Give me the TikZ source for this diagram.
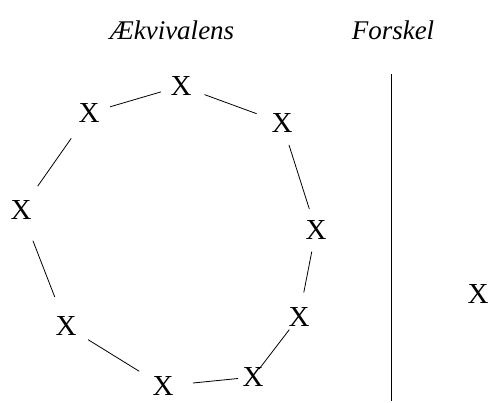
\documentclass[tikz,border=0pt]{standalone}
\usepackage{fontspec}
\setmainfont{Liberation Serif}
\begin{document}
\begin{tikzpicture}[x=1pt,y=-1pt,
  xnode/.style={inner sep=0pt,font=\fontsize{29}{29}\selectfont},
  title/.style={inner sep=0pt,font=\fontsize{27}{27}\selectfont\itshape},
  conn/.style={line width=0.8pt}]
\useasboundingbox (0,0) rectangle (490,403);
\node[title] (t1) at (172,30) {Ækvivalens};
\node[title] (t2) at (393,30) {Forskel};
\node[xnode] (a) at (181,86) {X};
\node[xnode] (b) at (89,113) {X};
\node[xnode] (c) at (282,123) {X};
\node[xnode] (d) at (21,210) {X};
\node[xnode] (e) at (316,230) {X};
\node[xnode] (f) at (66,326) {X};
\node[xnode] (g) at (299,317) {X};
\node[xnode] (h) at (163,386) {X};
\node[xnode] (i) at (253,377) {X};
\node[xnode] (j) at (478,294) {X};
\coordinate (vtop) at (391,74);
\coordinate (vbot) at (391,401);
\draw[conn] (vtop) -- (vbot);
\draw[conn,shorten <=22pt,shorten >=21pt] (b.center) -- (a.center);
\draw[conn,shorten <=25pt,shorten >=27pt] (a.center) -- (c.center);
\draw[conn,shorten <=31pt,shorten >=29pt] (b.center) -- (d.center);
\draw[conn,shorten <=23pt,shorten >=22pt] (c.center) -- (e.center);
\draw[conn,shorten <=33pt,shorten >=31pt] (d.center) -- (f.center);
\draw[conn,shorten <=22pt,shorten >=25pt] (e.center) -- (g.center);
\draw[conn,shorten <=26pt,shorten >=28pt] (f.center) -- (h.center);
\draw[conn,shorten <=30pt,shorten >=15pt] (h.center) -- (i.center);
\draw[conn,shorten <=10pt,shorten >=16pt] (i.center) -- (g.center);
\end{tikzpicture}
\end{document}
